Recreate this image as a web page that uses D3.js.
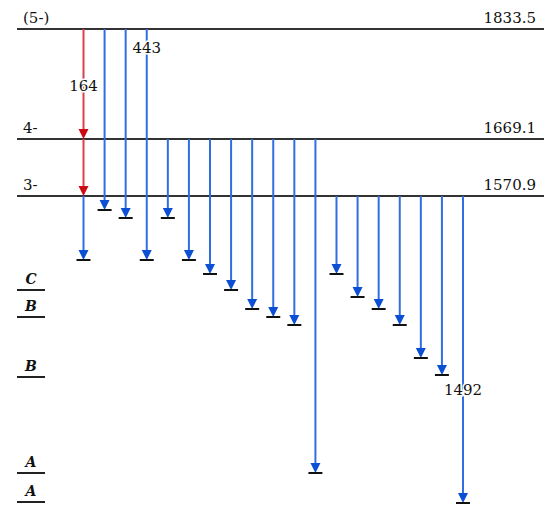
<!DOCTYPE html>
<html>
<head>
<meta charset="utf-8">
<script src="https://cdn.jsdelivr.net/npm/d3@7"></script>
<style>
  body { margin: 0; background: #fff; }
  text { font-family: "DejaVu Serif", serif; fill: #111; }
</style>
</head>
<body>
<svg width="554" height="506"></svg>
<script>
// levels of the scheme (depth = schematic distance below the top level)
const levelNames = ["(5-)", "4-", "3-"];
const levelEnergies = ["1833.5", "1669.1", "1570.9"];
const levelDepth = [0, 110, 167];

// gamma transitions, one per column
const gammaFrom = [2, 0, 0, 0, 1, 1, 1, 1, 1, 1, 1, 1, 2, 2, 2, 2, 2, 2, 2];
const gammaEnd = [231, 181, 189, 231, 189, 231, 245, 261, 280, 288, 296, 444, 245, 268, 280, 296, 329, 346, 474];

// red cascade in column 0
const cascadeFrom = [0, 1];
const cascadeTo = [1, 2];

// final states labelled on the left
const finalNames = ["C", "B", "B", "A", "A"];
const finalDepth = [261, 288, 348, 444, 473];

// energy labels: column, text, depth
const gammaLabelCol = [0, 3, 18];
const gammaLabelText = ["164", "443", "1492"];
const gammaLabelDepth = [62, 24, 366];

const svg = d3.select("svg");
const blueLine = "#2f6fe0", blueHead = "#0a4fd4";
const redLine = "#d8414b", redHead = "#cc0a14";

const x = d3.scaleLinear().domain([0, 18]).range([83.5, 463]);
const y = d3.scaleLinear().domain([0, 473]).range([29, 502]);

function head(g, cx, cy, color) {
    g.append("path")
        .attr("d", `M${cx - 5},${cy - 10}L${cx + 5},${cy - 10}L${cx},${cy}Z`)
        .attr("fill", color);
}

// level lines
const lv = svg.append("g");
levelDepth.forEach((d, i) => {
    lv.append("line")
        .attr("x1", 17).attr("x2", 544)
        .attr("y1", y(d)).attr("y2", y(d))
        .attr("stroke", "#333").attr("stroke-width", 2);
    lv.append("text")
        .attr("x", 23).attr("y", y(d) - 6)
        .attr("font-size", 15)
        .text(levelNames[i]);
    lv.append("text")
        .attr("x", 536).attr("y", y(d) - 6)
        .attr("text-anchor", "end")
        .attr("font-size", 15)
        .text(levelEnergies[i]);
});

// final state labels
const fs = svg.append("g");
finalDepth.forEach((d, i) => {
    fs.append("line")
        .attr("x1", 17).attr("x2", 45)
        .attr("y1", y(d)).attr("y2", y(d))
        .attr("stroke", "#222").attr("stroke-width", 2);
    fs.append("text")
        .attr("x", 31).attr("y", y(d) - 6)
        .attr("text-anchor", "middle")
        .attr("font-size", 14)
        .attr("font-style", "italic")
        .attr("font-weight", "bold")
        .text(finalNames[i]);
});

// gammas
const gm = svg.append("g");
cascadeFrom.forEach((f, i) => {
    const cx = x(0);
    gm.append("line")
        .attr("x1", cx).attr("x2", cx)
        .attr("y1", y(levelDepth[f])).attr("y2", y(levelDepth[cascadeTo[i]]) - 8)
        .attr("stroke", redLine).attr("stroke-width", 2);
    head(gm, cx, y(levelDepth[cascadeTo[i]]), redHead);
});

gammaFrom.forEach((f, i) => {
    const cx = x(i);
    const ye = y(gammaEnd[i]);
    gm.append("line")
        .attr("x1", cx).attr("x2", cx)
        .attr("y1", y(levelDepth[f])).attr("y2", ye - 8)
        .attr("stroke", blueLine).attr("stroke-width", 2);
    head(gm, cx, ye, blueHead);
    gm.append("line")
        .attr("x1", cx - 7).attr("x2", cx + 7)
        .attr("y1", ye).attr("y2", ye)
        .attr("stroke", "#111").attr("stroke-width", 2);
});

// gamma energy labels
gammaLabelCol.forEach((c, i) => {
    svg.append("text")
        .attr("x", x(c)).attr("y", y(gammaLabelDepth[i]))
        .attr("text-anchor", "middle")
        .attr("font-size", 15)
        .attr("stroke", "#fff").attr("stroke-width", 3)
        .attr("paint-order", "stroke")
        .text(gammaLabelText[i]);
});
</script>
</body>
</html>
